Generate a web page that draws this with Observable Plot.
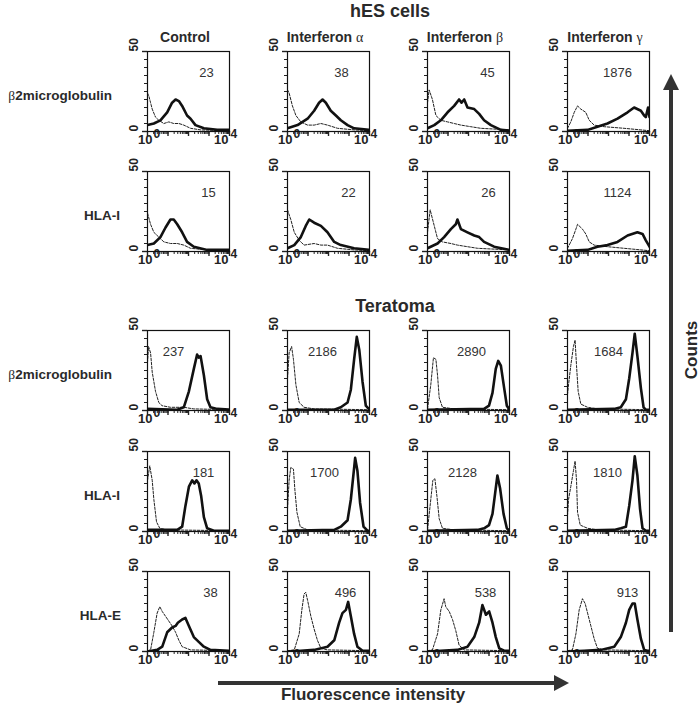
<!DOCTYPE html>
<html><head><meta charset="utf-8">
<script src="https://cdn.jsdelivr.net/npm/d3@7"></script>
<script src="https://cdn.jsdelivr.net/npm/@observablehq/plot@0.6"></script>
<style>
body{margin:0;background:#fff;}
#fig{position:relative;width:700px;height:707px;overflow:hidden;background:#fff;font-family:"Liberation Sans",Arial,sans-serif;}
.panel{position:absolute;}
#overlay{position:absolute;left:0;top:0;}
</style></head><body><div id="fig"><svg id="overlay" width="700" height="707"></svg></div>
<script>
// ---------- data ----------
const groups = ["hES cells", "Teratoma"];
const treatments = [["Interferon", ""], ["Interferon", "α"], ["Interferon", "β"], ["Interferon", "γ"]];
const controlLabel = "Control";
const markers = [["β", "2microglobulin"], ["", "HLA-I"], ["β", "2microglobulin"], ["", "HLA-I"], ["", "HLA-E"]];
const mfi = [
  [23, 38, 45, 1876],
  [15, 22, 26, 1124],
  [237, 2186, 2890, 1684],
  [181, 1700, 2128, 1810],
  [38, 496, 538, 913]
];
const yTickLabels = [0, 50];
const xTickLow = [[1, "10", "0"]];
const xTickHigh = [[10000, "10", "4"]];
const axisTitles = ["Counts", "Fluorescence intensity"];

// curves: [log10 fluorescence, count]
const hesB2mStained = [
  [[0,4],[0.31,5],[0.63,7],[0.96,12],[1.2,18],[1.37,20],[1.53,19],[1.69,16],[1.93,10],[2.1,8],[2.34,4],[2.75,2],[3.4,1],[4,1]],
  [[0,2],[0.49,4],[0.98,8],[1.3,13],[1.54,18],[1.71,20],[1.87,18],[2.11,13],[2.36,10],[2.6,7],[2.93,4],[3.25,2],[4,1]],
  [[0,2],[0.33,4],[0.65,7],[0.98,12],[1.3,16],[1.54,20],[1.66,18],[1.79,20],[1.95,15],[2.28,14],[2.52,11],[2.76,7],[3.09,4],[3.58,1],[4,0.5]],
  [[0,0.5],[0.98,1],[1.46,3],[1.95,5],[2.44,8],[2.93,12],[3.25,15],[3.58,13],[3.74,10],[3.82,9],[3.93,15],[4,9]]
];
const hesB2mIsotype = [
  [[0,24],[0.07,22],[0.15,18],[0.23,14],[0.39,9],[0.55,7],[0.8,5],[1.04,6],[1.28,5],[1.53,5],[1.77,4],[2.1,2],[2.6,1],[4,0.5]],
  [[0,26],[0.08,24],[0.24,16],[0.41,10],[0.65,6],[0.98,4],[1.3,4],[1.63,5],[1.95,4],[2.44,2],[3.25,1],[4,0.5]],
  [[0,18],[0.08,26],[0.24,20],[0.41,10],[0.65,7],[0.98,6],[1.3,5],[1.63,4],[2.11,3],[2.6,2],[4,1]],
  [[0,2],[0.16,6],[0.33,12],[0.49,16],[0.65,14],[0.89,12],[1.06,7],[1.3,4],[1.79,3],[2.76,2],[3.58,1],[4,0.5]]
];
const hesHlaIStained = [
  [[0,4],[0.31,5],[0.63,9],[0.88,15],[1.12,20],[1.28,20],[1.45,17],[1.69,12],[1.93,6],[2.26,3],[2.91,1],[4,1]],
  [[0,2],[0.33,4],[0.65,9],[0.89,16],[1.06,20],[1.3,18],[1.63,16],[1.95,12],[2.28,6],[2.6,4],[3.25,2],[4,1]],
  [[0,2],[0.49,5],[0.81,9],[1.14,14],[1.38,17],[1.46,20],[1.63,14],[1.95,12],[2.28,10],[2.52,9],[2.76,6],[3.25,3],[4,1]],
  [[0,0.5],[0.98,1],[1.46,3],[1.95,4],[2.44,6],[2.93,10],[3.41,12],[3.66,11],[3.82,7],[4,3]]
];
const hesHlaIIsotype = [
  [[0,24],[0.15,17],[0.31,12],[0.55,9],[0.8,6],[1.12,5],[1.45,5],[1.77,4],[2.1,2],[2.91,1],[4,0.5]],
  [[0,26],[0.16,20],[0.33,12],[0.57,7],[0.81,4],[1.3,5],[1.63,4],[1.95,4],[2.44,2],[3.25,1],[4,0.5]],
  [[0,12],[0.13,26],[0.33,16],[0.49,8],[0.73,6],[1.14,5],[1.46,4],[1.95,3],[2.44,2],[4,1]],
  [[0,2],[0.24,8],[0.41,14],[0.49,17],[0.73,14],[0.89,11],[1.06,6],[1.3,4],[1.95,3],[2.76,2],[4,0.5]]
];
const terB2mStained = [
  [[0,1],[1.45,0.5],[1.77,2],[2.02,12],[2.26,26],[2.42,35],[2.5,33],[2.59,34],[2.75,22],[2.91,7],[3.07,2],[3.4,1],[4,0.5]],
  [[0,0.5],[2.28,0.5],[2.6,2],[2.93,5],[3.09,13],[3.25,32],[3.38,46],[3.5,38],[3.66,18],[3.82,3],[4,0.5]],
  [[0,0.5],[2.76,1],[3.0,3],[3.17,11],[3.33,26],[3.45,31],[3.58,28],[3.74,14],[3.87,3],[4,0.5]],
  [[0,0.5],[2.28,1],[2.6,2],[2.85,7],[3.01,20],[3.17,36],[3.28,48],[3.41,34],[3.58,14],[3.71,2],[3.82,0.5],[4,0.5]]
];
const terB2mIsotype = [
  [[0,30],[0.05,40],[0.15,36],[0.23,24],[0.39,12],[0.55,5],[0.71,3],[1.12,2],[1.77,2],[2.26,1],[4,0.5]],
  [[0,20],[0.08,36],[0.2,40],[0.29,32],[0.41,16],[0.57,5],[0.81,2],[1.3,1],[4,0.5]],
  [[0,1],[0.16,16],[0.29,33],[0.41,32],[0.49,22],[0.57,8],[0.73,2],[1.3,1],[4,0.5]],
  [[0,10],[0.05,16],[0.16,28],[0.29,40],[0.37,44],[0.44,28],[0.52,12],[0.65,4],[0.98,2],[1.5,1],[4,0.5]]
];
const terHlaIStained = [
  [[0,1],[1.45,1],[1.69,3],[1.85,16],[2.02,28],[2.18,32],[2.29,30],[2.39,32],[2.5,30],[2.62,22],[2.75,9],[2.91,2],[3.24,0.5],[4,0.5]],
  [[0,0.5],[2.28,1],[2.6,3],[2.93,7],[3.09,20],[3.22,36],[3.3,46],[3.41,38],[3.54,18],[3.71,3],[3.9,0.5],[4,0.5]],
  [[0,0.5],[2.44,1],[2.76,2],[3.0,4],[3.17,11],[3.3,24],[3.41,35],[3.54,27],[3.71,11],[3.87,2],[4,0.5]],
  [[0,0.5],[2.28,1],[2.6,2],[2.85,3],[3.01,16],[3.17,32],[3.28,47],[3.41,35],[3.54,14],[3.66,2],[3.82,0.5],[4,0.5]]
];
const terHlaIIsotype = [
  [[0,32],[0.11,41],[0.23,32],[0.31,20],[0.44,6],[0.6,2],[0.96,1],[4,0.5]],
  [[0,14],[0.08,32],[0.16,40],[0.29,39],[0.36,26],[0.46,12],[0.62,3],[0.98,1],[4,0.5]],
  [[0,1],[0.16,20],[0.26,32],[0.36,33],[0.46,22],[0.57,8],[0.73,2],[1.3,1],[4,0.5]],
  [[0,10],[0.05,20],[0.16,28],[0.29,38],[0.37,44],[0.44,32],[0.49,12],[0.62,4],[0.98,2],[1.5,1],[4,0.5]]
];
const terHlaEStained = [
  [[0,0],[0.47,1],[0.72,3],[0.96,12],[1.2,15],[1.37,16],[1.48,18],[1.69,20],[1.85,21],[2.02,16],[2.26,9],[2.5,6],[2.75,3],[3.07,1],[4,0.5]],
  [[0,0],[0.65,0.5],[1.3,1],[1.95,3],[2.28,7],[2.52,18],[2.68,24],[2.85,26],[2.96,31],[3.09,22],[3.25,11],[3.41,3],[3.66,0.5],[4,0.5]],
  [[0,0],[0.65,0.5],[1.46,1],[1.95,3],[2.28,9],[2.52,18],[2.68,29],[2.85,23],[3.01,25],[3.17,18],[3.33,9],[3.5,2],[3.74,0.5],[4,0.5]],
  [[0,0],[0.81,0.5],[1.63,1],[2.28,3],[2.6,9],[2.85,18],[3.01,26],[3.17,30],[3.28,30],[3.41,20],[3.58,8],[3.74,1],[3.9,0.5],[4,0.5]]
];
const terHlaEIsotype = [
  [[0,0.5],[0.15,1],[0.31,12],[0.47,24],[0.6,28],[0.72,25],[0.88,22],[1.04,19],[1.2,16],[1.37,12],[1.53,7],[1.69,3],[2.1,1],[4,0.5]],
  [[0,0.5],[0.33,1],[0.57,11],[0.7,26],[0.81,36],[0.89,37],[0.98,32],[1.14,22],[1.3,14],[1.46,7],[1.63,2],[1.95,1],[4,0.5]],
  [[0,0.5],[0.24,1],[0.49,11],[0.65,26],[0.81,33],[0.89,28],[1.06,25],[1.22,20],[1.38,13],[1.54,4],[1.79,1],[4,0.5]],
  [[0,0.5],[0.24,1],[0.41,11],[0.57,26],[0.73,33],[0.86,30],[0.98,24],[1.14,16],[1.3,8],[1.46,2],[1.79,1],[4,0.5]]
];

// ---------- layout (pixels) ----------
const panelLeft = [147, 287, 427, 567];
const panelTop = [51, 171, 330, 451, 571];
const numberDx = [
  [59, 54, 60, 50],
  [61, 61, 61, 50],
  [26, 35, 44, 41],
  [56, 37, 35, 40],
  [63, 58, 58, 60]
];

const stained = [hesB2mStained, hesHlaIStained, terB2mStained, terHlaIStained, terHlaEStained];
const isotype = [hesB2mIsotype, hesHlaIIsotype, terB2mIsotype, terHlaIIsotype, terHlaEIsotype];

const ML = 22, MR = 16, MT = 4, MB = 22, BW = 82, BH = 80;
const fontMain = "'Liberation Sans', Arial, sans-serif";
const fontNarrow = "'Liberation Sans Narrow', 'Liberation Sans', Arial, sans-serif";
const logTicks = d3.scaleLog().domain([1, 1e4]).ticks();
const decades = [1, 10, 100, 1000, 10000];

function tickText(data, dxBase, dxExp) {
  const common = {x: d => d[0], frameAnchor: "bottom", fontWeight: "bold", fill: "#222", fontFamily: fontNarrow};
  return [
    Plot.text(data, {...common, dx: dxBase, dy: 12, text: d => d[1], fontSize: 13, textAnchor: "end"}),
    Plot.text(data, {...common, dx: dxExp, dy: 6, text: d => d[2], fontSize: 12, textAnchor: "start"})
  ];
}

function panel(r, c) {
  const X = d => 10 ** d[0];
  const Y = d => d[1];
  return Plot.plot({
    width: ML + BW + MR, height: MT + BH + MB,
    marginLeft: ML, marginRight: MR, marginTop: MT, marginBottom: MB,
    style: {background: "transparent", overflow: "visible", fontFamily: fontMain},
    x: {type: "log", domain: [1, 1e4]},
    y: {domain: [0, 50]},
    marks: [
      Plot.axisY(d3.range(0, 51, 5), {tickSize: 3, tickFormat: () => "", label: null, stroke: "#222"}),
      Plot.axisY(yTickLabels, {tickSize: 5, tickFormat: () => "", label: null, stroke: "#222", strokeWidth: 1.4}),
      Plot.axisX(logTicks, {tickSize: 3, tickFormat: () => "", label: null, stroke: "#222"}),
      Plot.axisX(decades, {tickSize: 5, tickFormat: () => "", label: null, stroke: "#222", strokeWidth: 1.4}),
      Plot.text(yTickLabels, {y: d => d, frameAnchor: "left", dx: -13, rotate: -90, text: d => String(d),
        fontWeight: "bold", fontSize: 12, fill: "#222", fontFamily: fontMain}),
      ...tickText(xTickLow, 5, 6),
      ...tickText(xTickHigh, -1, 1),
      Plot.line(isotype[r][c], {x: X, y: Y, stroke: "#222", strokeWidth: 1, strokeDasharray: "2.5,1.5", clip: true}),
      Plot.line(stained[r][c], {x: X, y: Y, stroke: "#111", strokeWidth: 2.6, strokeLinejoin: "round", clip: true}),
      Plot.frame({stroke: "#111", strokeWidth: 1.2}),
      Plot.text([mfi[r][c]], {frameAnchor: "top-left", dx: numberDx[r][c], dy: 16, text: d => String(d),
        textAnchor: "middle", fontSize: 13, fill: "#333", fontFamily: fontMain})
    ]
  });
}

const fig = document.getElementById("fig");
for (let r = 0; r < panelTop.length; r++) {
  for (let c = 0; c < panelLeft.length; c++) {
    const div = document.createElement("div");
    div.className = "panel";
    div.style.left = (panelLeft[c] - ML) + "px";
    div.style.top = (panelTop[r] - MT) + "px";
    div.appendChild(panel(r, c));
    fig.appendChild(div);
  }
}

// ---------- labels & arrows ----------
const svg = d3.select("#overlay");
const ink = "#2a2a2a";
function label(x, y, parts, size, anchor, rotate) {
  const t = svg.append("text").attr("x", x).attr("y", y).attr("text-anchor", anchor)
    .attr("font-family", fontMain).attr("font-size", size).attr("font-weight", "bold").attr("fill", ink);
  if (rotate) t.attr("transform", `rotate(${rotate},${x},${y})`);
  parts.forEach(([s, greek]) => {
    if (!s) return;
    const ts = t.append("tspan").text(s);
    if (greek) ts.attr("font-weight", "normal").attr("font-family", "'Liberation Serif', 'DejaVu Serif', serif");
  });
  return t;
}
label(390, 17, [[groups[0]]], 18, "middle");
label(395, 312, [[groups[1]]], 18, "middle");
treatments.forEach(([a, g], c) => {
  const cx = panelLeft[c] + BW / 2 - 3;
  if (c === 0) label(cx, 42, [[controlLabel]], 14, "middle");
  else label(cx, 42, [[a + " "], [g, true]], 14, "middle");
});
const labelRight = [112, 120, 112, 120, 121];
markers.forEach(([g, name], r) => {
  label(labelRight[r], panelTop[r] + 49, [[g, true], [name]], 13.5, "end");
});
label(697, 350, [[axisTitles[0]]], 17, "middle", -90);
label(373, 700, [[axisTitles[1]]], 17, "middle");

svg.append("line").attr("x1", 671).attr("y1", 632).attr("x2", 671).attr("y2", 88)
  .attr("stroke", "#333").attr("stroke-width", 4);
svg.append("polygon").attr("points", "663,90 679,90 671,74").attr("fill", "#333");
svg.append("line").attr("x1", 218).attr("y1", 683).attr("x2", 556).attr("y2", 683)
  .attr("stroke", "#333").attr("stroke-width", 4);
svg.append("polygon").attr("points", "554,675 554,691 569,683").attr("fill", "#333");
</script></body></html>
